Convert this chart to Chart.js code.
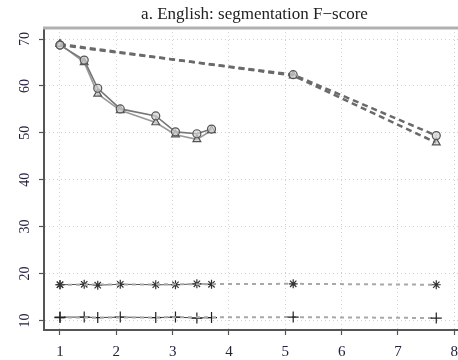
<!DOCTYPE html>
<html>
<head>
<meta charset="utf-8">
<script src="https://cdn.jsdelivr.net/npm/chart.js@4.4.0/dist/chart.umd.min.js"></script>
<style>
  body{margin:0;background:#fff;overflow:hidden;}
  #wrap{width:458px;height:360px;overflow:hidden;}
</style>
</head>
<body>
<div id="wrap"><canvas id="grafico" width="480" height="360"></canvas></div>
<script>
// datos
var titulo = 'a. English: segmentation F\u2212score';
var xCorto = [1, 1.43, 1.67, 2.07, 2.7, 3.05, 3.43, 3.69];
var xLargo = [1, 5.14, 7.68];
var circCorto = [68.7, 65.5, 59.5, 55.1, 53.6, 50.2, 49.8, 50.8];
var triCorto  = [68.9, 65.0, 58.3, 54.8, 52.2, 49.6, 48.6, 50.5];
var estCorto  = [17.6, 17.7, 17.5, 17.7, 17.6, 17.6, 17.8, 17.7];
var masCorto  = [10.7, 10.7, 10.6, 10.7, 10.6, 10.7, 10.5, 10.6];
var circLargo = [68.7, 62.4, 49.4];
var triLargo  = [68.9, 62.2, 47.9];
var estLargo  = [17.6, 17.8, 17.6];
var masLargo  = [10.6, 10.7, 10.5];
var xTicks = [1, 2, 3, 4, 5, 6, 7, 8];
var yTicks = [10, 20, 30, 40, 50, 60, 70];

function puntos(xs, ys){
    return xs.map(function(x, i){ return {x: x, y: ys[i]}; });
}

function serie(xs, ys, linea, estilo){
    return Object.assign({
        data: puntos(xs, ys),
        showLine: true,
        borderColor: linea,
        pointBorderColor: '#555',
        pointBackgroundColor: 'rgba(210,210,210,0.7)',
        pointBorderWidth: 1.2,
        fill: false
    }, estilo);
}

var fuente = '"Liberation Serif", "DejaVu Serif", serif';

// etiquetas del eje y giradas, borde superior gris
var extras = {
    id: 'extras',
    afterDraw: function(chart){
        var ctx = chart.ctx;
        var a = chart.chartArea;
        var ys = chart.scales.y;
        ctx.save();
        ctx.strokeStyle = '#b0b0b0';
        ctx.lineWidth = 3;
        ctx.beginPath();
        ctx.moveTo(a.left - 1, a.top);
        ctx.lineTo(a.right, a.top);
        ctx.stroke();
        ctx.fillStyle = '#222244';
        ctx.font = '14px ' + fuente;
        ctx.textAlign = 'center';
        ctx.textBaseline = 'middle';
        yTicks.forEach(function(v){
            var py = ys.getPixelForValue(v);
            ctx.save();
            ctx.translate(25, py);
            ctx.rotate(-Math.PI / 2);
            ctx.fillText(String(v), 0, 0);
            ctx.restore();
        });
        ctx.restore();
    }
};

var ctx = document.getElementById('grafico').getContext('2d');
var chart = new Chart(ctx, {
    type: 'scatter',
    data: {
        datasets: [
            serie(xLargo, circLargo, '#6a6a6a', {borderWidth: 2.5, borderDash: [6, 4], pointStyle: 'circle', pointRadius: 4}),
            serie(xLargo, triLargo, '#6a6a6a', {borderWidth: 2.5, borderDash: [6, 4], pointStyle: 'triangle', pointRadius: 4.5}),
            serie(xLargo, estLargo, '#a8a8a8', {borderWidth: 2, borderDash: [4, 4], pointStyle: 'star', pointRadius: 4.5, pointBorderColor: '#333'}),
            serie(xLargo, masLargo, '#a8a8a8', {borderWidth: 2, borderDash: [4, 4], pointStyle: 'cross', pointRadius: 5.5, pointBorderColor: '#222'}),
            serie(xCorto, circCorto, '#777', {borderWidth: 1.6, pointStyle: 'circle', pointRadius: 4}),
            serie(xCorto, triCorto, '#999', {borderWidth: 1.6, pointStyle: 'triangle', pointRadius: 4.5}),
            serie(xCorto, estCorto, '#555', {borderWidth: 1, pointStyle: 'star', pointRadius: 4.5, pointBorderColor: '#333'}),
            serie(xCorto, masCorto, '#444', {borderWidth: 1, pointStyle: 'cross', pointRadius: 5.5, pointBorderColor: '#222'})
        ]
    },
    options: {
        responsive: false,
        animation: false,
        layout: {padding: {left: 0, right: 15, top: 0, bottom: 0}},
        plugins: {
            legend: {display: false},
            tooltip: {enabled: false},
            title: {
                display: true,
                text: titulo,
                fullSize: false,
                color: '#222',
                font: {family: fuente, size: 17, weight: 'normal', lineHeight: 1},
                padding: {top: 6, bottom: 5}
            }
        },
        scales: {
            x: {
                type: 'linear',
                min: 0.716,
                max: 8.19,
                afterBuildTicks: function(s){ s.ticks = xTicks.map(function(v){ return {value: v}; }); },
                afterFit: function(s){ s.height = 30; },
                ticks: {
                    color: '#222244',
                    font: {family: fuente, size: 15},
                    padding: 8,
                    maxRotation: 0
                },
                grid: {color: '#d2d2d2', lineWidth: 1, tickLength: 5, tickColor: '#555', tickWidth: 1.2, tickBorderDash: []},
                border: {display: true, color: '#555', width: 2, dash: [1, 3]}
            },
            y: {
                type: 'linear',
                min: 7.95,
                max: 72.35,
                afterBuildTicks: function(s){ s.ticks = yTicks.map(function(v){ return {value: v}; }); },
                afterFit: function(s){ s.width = 44; },
                ticks: {display: false},
                grid: {color: '#d2d2d2', lineWidth: 1, tickLength: 5, tickColor: '#555', tickWidth: 1.2, tickBorderDash: []},
                border: {display: true, color: '#555', width: 2, dash: [1, 3]}
            }
        }
    },
    plugins: [extras]
});
</script>
</body>
</html>
